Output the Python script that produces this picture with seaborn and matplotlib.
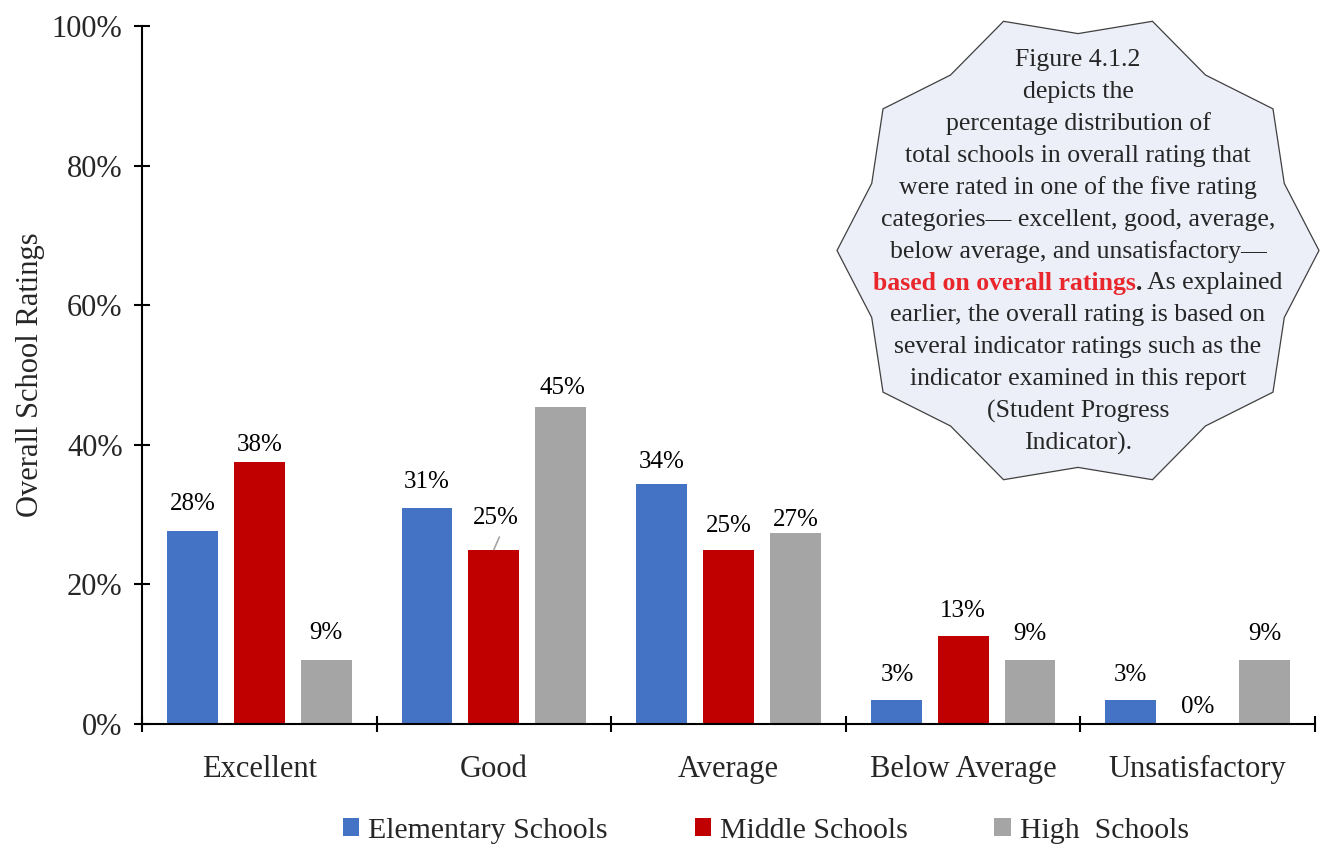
import numpy as np
import pandas as pd
import matplotlib
matplotlib.use("Agg")
import matplotlib.pyplot as plt
import seaborn as sns
from matplotlib.patches import Polygon, Patch
from matplotlib.ticker import FixedLocator, PercentFormatter

# ---------------- data ----------------
categories = ["Excellent", "Good", "Average", "Below Average", "Unsatisfactory"]
schools = ["Elementary Schools", "Middle Schools", "High  Schools"]
elementary = [27.6, 31.0, 34.4, 3.4, 3.4]
middle = [37.6, 25.0, 25.0, 12.6, 0.0]
high = [9.1, 45.4, 27.3, 9.1, 9.1]
colors = ["#4472C4", "#C00000", "#A5A5A5"]

y_label = "Overall School Ratings"
note_lines = [
    "Figure 4.1.2",
    "depicts the",
    "percentage distribution of",
    "total schools in overall rating that",
    "were rated in one of the five rating",
    "categories\u2014 excellent, good, average,",
    "below average, and unsatisfactory\u2014",
    None,
    "earlier, the overall rating is based on",
    "several indicator ratings such as the",
    "indicator examined in this report",
    "(Student Progress",
    "Indicator).",
]
note_red = "based on overall ratings"
note_rest = " As explained"

# label offsets (pixels above bar top) per category / series
label_dy = [[27, 17, 27], [26, 31, 19], [22, 24, 13], [25, 25, 26], [25, 17, 26]]
label_dx = [[0, 0, 0], [0, 2, 2], [0, 0, 0], [1, 0, 0], [0, 0, 0]]

# ---------------- frame ----------------
df = pd.DataFrame({
    "Rating": categories * 3,
    "School": np.repeat(schools, len(categories)),
    "Pct": np.array(elementary + middle + high) / 100.0,
})

sns.set_style("white")
plt.rcParams["font.family"] = ["Liberation Serif", "DejaVu Serif"]
plt.rcParams["axes.linewidth"] = 1.5

W, H = 1320, 848
fig = plt.figure(figsize=(W / 100, H / 100), dpi=100)
ax = fig.add_axes([142 / W, 1 - 724 / H, (1315 - 142) / W, (724 - 26) / H])

sns.barplot(data=df, x="Rating", y="Pct", hue="School", order=categories,
            hue_order=schools, palette=colors, width=0.855, gap=0.24,
            saturation=1.0, legend=False, ax=ax, linewidth=0, errorbar=None)

ax.set_xlim(-0.5, len(categories) - 0.5)
ax.set_ylim(0, 1.0)
ax.yaxis.set_major_locator(FixedLocator(np.arange(0, 1.01, 0.2)))
ax.yaxis.set_major_formatter(PercentFormatter(1.0, decimals=0))
ax.set_xlabel("")
ax.set_ylabel(y_label, fontsize=22)
ax.yaxis.set_label_coords(-0.083, 0.5)

for s in ["top", "right"]:
    ax.spines[s].set_visible(False)
for s in ["left", "bottom"]:
    ax.spines[s].set_color("black")

ax.tick_params(axis="y", which="major", direction="inout", length=12, width=1.5,
               labelsize=22, pad=8, color="black", left=True)
ax.tick_params(axis="x", which="major", length=0, labelsize=22, pad=22)
ax.xaxis.set_minor_locator(FixedLocator(np.arange(-0.5, len(categories), 1.0)))
ax.tick_params(axis="x", which="minor", direction="inout", length=12, width=1.5,
               color="black", bottom=True)

# value labels
for si, cont in enumerate(ax.containers):
    for ci, bar in enumerate(cont):
        v = bar.get_height()
        xc = bar.get_x() + bar.get_width() / 2
        dx = label_dx[ci][si] * 0.72
        dy = label_dy[ci][si] * 0.72
        ax.annotate(f"{v * 100:.0f}%", xy=(xc, v), xytext=(dx, dy),
                    textcoords="offset points", ha="center", va="center",
                    fontsize=18, color="black")
        if label_dy[ci][si] >= 30:
            ax.annotate("", xy=(xc, v), xytext=(dx + 2.5, 9),
                        textcoords="offset points",
                        arrowprops=dict(arrowstyle="-", color="#A5A5A5",
                                        lw=1.2, shrinkA=0, shrinkB=0))

# legend
handles = [Patch(facecolor=c, edgecolor="none") for c in colors]
fig.legend(handles, schools, loc="center", bbox_to_anchor=(766 / W, 1 - 831 / H),
           ncol=3, frameon=False, fontsize=21.5, handlelength=0.55,
           handleheight=0.55, handletextpad=0.3, columnspacing=2.9)

# ---------------- note shape ----------------
cx, cy, R = 1078, 250.5, 241
ax2 = fig.add_axes([(cx - R) / W, 1 - (cy + R) / H, 2 * R / W, 2 * R / H])
ax2.set_xlim(-1, 1)
ax2.set_ylim(-1, 1)
ax2.axis("off")
ang = np.deg2rad(np.arange(20) * 18.0)
rad = np.where(np.arange(20) % 2 == 0, 1.0, 0.90)
poly = Polygon(np.column_stack([rad * np.cos(ang), rad * np.sin(ang)]),
               closed=True, facecolor="#ECEEF8", edgecolor="#404040", lw=0.9,
               clip_on=False)
ax2.add_patch(poly)

fs = 18.5
tc = "#262626"
top_px, step_px = 60, (443 - 60) / (len(note_lines) - 1)
line_y = [((cy + R) - (top_px + step_px * i)) / (2 * R) for i in range(len(note_lines))]
for i, ln in enumerate(note_lines):
    if ln is not None:
        ax2.text(0.5, line_y[i], ln, transform=ax2.transAxes, ha="center",
                 va="center", fontsize=fs, color=tc)

# mixed line
idx = note_lines.index(None)
fig.canvas.draw()
r = fig.canvas.get_renderer()
parts = [(note_red, "#E8262B", "bold"), (".", tc, "bold"), (note_rest, tc, "normal")]
objs = []
for txt, col, wt in parts:
    t = ax2.text(0, line_y[idx], txt, transform=ax2.transAxes, ha="left",
                 va="center", fontsize=fs, color=col, fontweight=wt)
    objs.append(t)
axw = ax2.get_window_extent(r).width
widths = [o.get_window_extent(r).width / axw for o in objs]
start = 0.5 - sum(widths) / 2
for o, w in zip(objs, widths):
    o.set_x(start)
    start += w

fig.savefig("out.png", dpi=100)
